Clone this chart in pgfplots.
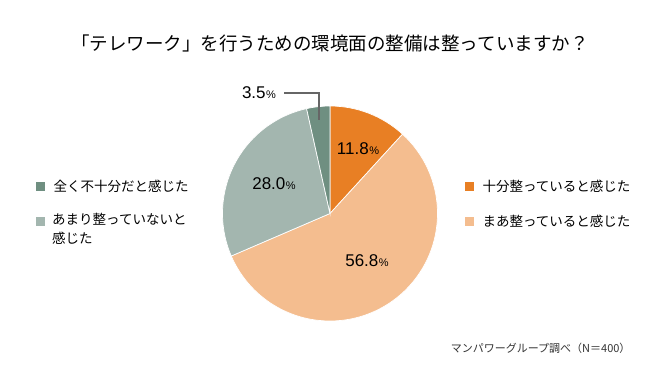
\documentclass[border=0pt]{standalone}
\usepackage{pgfplots}
\pgfplotsset{compat=1.18}
\usepackage{pgfplotstable}
\usepackage{fontspec}
\setmainfont{Noto Sans CJK JP}
\newfontfamily\numfont{Liberation Sans}
\definecolor{cA}{HTML}{E87F24}
\definecolor{cB}{HTML}{F4BD8F}
\definecolor{cC}{HTML}{A3B6AF}
\definecolor{cD}{HTML}{6F8F81}
\pgfplotstableread{
idx value
0 11.8
1 56.8
2 28.0
3 3.5
}\piedata
\pgfplotstablegetelem{0}{value}\of\piedata \let\vA\pgfplotsretval
\pgfplotstablegetelem{1}{value}\of\piedata \let\vB\pgfplotsretval
\pgfplotstablegetelem{2}{value}\of\piedata \let\vC\pgfplotsretval
\pgfplotstablegetelem{3}{value}\of\piedata \let\vD\pgfplotsretval
\pgfmathsetmacro\tot{\vA+\vB+\vC+\vD}
\pgfmathsetmacro\aA{90}
\pgfmathsetmacro\aB{90-\vA/\tot*360}
\pgfmathsetmacro\aC{\aB-\vB/\tot*360}
\pgfmathsetmacro\aD{\aC-\vC/\tot*360}
\pgfmathsetmacro\aE{-270}
\newcommand\pct[1]{{\numfont\fontsize{17}{17}\selectfont #1\kern0.5pt{\fontsize{11}{11}\selectfont\%}}}
\begin{document}
\begin{tikzpicture}
\begin{axis}[width=660pt,height=370pt,scale only axis,
  xmin=0,xmax=660,ymin=0,ymax=370,y dir=reverse,hide axis,clip=false]
\path (axis cs:0,0) rectangle (axis cs:660,370);
\def\R{107.5pt}
\coordinate (C) at (axis cs:330,213.5);
\fill[cA,draw=white,line width=0.7pt] (C) -- ++(\aA:\R) arc[start angle=\aA,end angle=\aB,radius=\R] -- cycle;
\fill[cB,draw=white,line width=0.7pt] (C) -- ++(\aB:\R) arc[start angle=\aB,end angle=\aC,radius=\R] -- cycle;
\fill[cC,draw=white,line width=0.7pt] (C) -- ++(\aC:\R) arc[start angle=\aC,end angle=\aD,radius=\R] -- cycle;
\fill[cD,draw=white,line width=0.7pt] (C) -- ++(\aD:\R) arc[start angle=\aD,end angle=\aE,radius=\R] -- cycle;
% labels
\node at (axis cs:358,149) {\pct{\vA}};
\node at (axis cs:367,261) {\pct{\vB}};
\node at (axis cs:274,184) {\pct{28.0}};
\node at (axis cs:259,93) {\pct{\vD}};
\draw[black!60,line width=1.1pt] (axis cs:284,93) -- (axis cs:319,93) -- (axis cs:319,120);
% title
\node[font=\fontsize{18.5}{18.5}\selectfont] at (axis cs:330,43) {「テレワーク」を行うための環境面の整備は整っていますか？};
% legend left
\fill[cD] (axis cs:36,182) rectangle (axis cs:45,191);
\node[anchor=west,font=\fontsize{13.5}{13.5}\selectfont] at (axis cs:50,186.5) {全く不十分だと感じた};
\fill[cC] (axis cs:36,217) rectangle (axis cs:45,226);
\node[anchor=north west,align=left,font=\fontsize{13.5}{19}\selectfont,inner sep=0pt] at (axis cs:52,213) {あまり整っていないと\\感じた};
% legend right
\fill[cA] (axis cs:465,182) rectangle (axis cs:474,191);
\node[anchor=west,font=\fontsize{13.5}{13.5}\selectfont] at (axis cs:479,186.5) {十分整っていると感じた};
\fill[cB] (axis cs:465,217) rectangle (axis cs:474,226);
\node[anchor=west,font=\fontsize{13.5}{13.5}\selectfont] at (axis cs:479,221.5) {まあ整っていると感じた};
% source
\node[anchor=east,font=\fontsize{11}{11}\selectfont,text=black!80] at (axis cs:634,348) {マンパワーグループ調べ（N＝400）};
\end{axis}
\end{tikzpicture}
\end{document}
